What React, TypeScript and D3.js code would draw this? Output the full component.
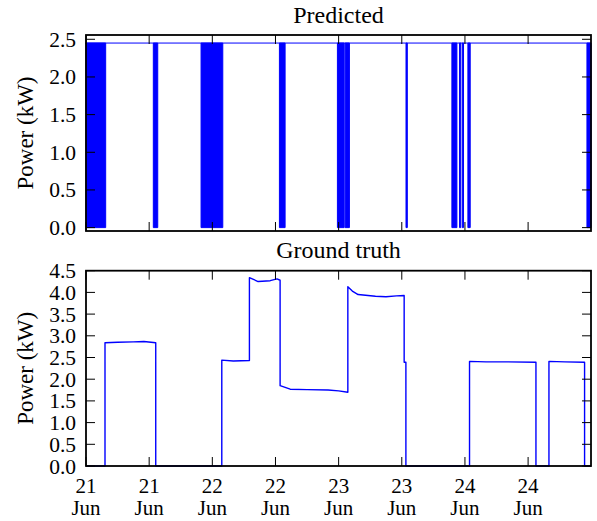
import React from "react";
import * as d3 from "d3";

// ---- data (hours after 21 Jun 00:00) ----
const startDate = new Date(2013, 5, 21, 0, 0, 0);
const endHour = 95.95;

// Predicted: constant level with intervals of rapid on/off switching
const predLevel = 2.45;
const predBands: [number, number][] = [
  [0, 3.74],
  [12.79, 13.63],
  [21.86, 25.99],
  [36.75, 37.83],
  [47.77, 49.05],
  [49.24, 50.05],
  [60.8, 61.05],
  [69.52, 70.47],
  [70.97, 71.2],
  [71.5, 71.73],
  [72.56, 73.0],
  [95.18, 95.95],
];

// Ground truth points [hour, kW]
const truthHours = [
  0, 3.61, 3.61, 6, 9, 11, 13.25, 13.25, 25.8, 25.8, 28, 31.05, 31.05, 32.7, 35, 36.3,
  36.88, 36.88, 38.8, 42, 46, 48, 49.75, 49.75, 50.6, 51.7, 55, 57, 59, 60.45, 60.45,
  60.78, 60.78, 72.87, 72.87, 76, 80, 85.49, 85.49, 87.96, 87.96, 91, 94.73, 94.73, 95.95,
];
const truthValues = [
  0, 0, 2.84, 2.85, 2.86, 2.87, 2.84, 0, 0, 2.44, 2.42, 2.43, 4.34, 4.25, 4.27, 4.31,
  4.28, 1.85, 1.77, 1.76, 1.75, 1.73, 1.7, 4.13, 4.03, 3.95, 3.91, 3.9, 3.92, 3.93, 2.39,
  2.39, 0, 0, 2.41, 2.4, 2.4, 2.39, 0, 0, 2.41, 2.4, 2.39, 0, 0,
];

const topTicks = [0, 0.5, 1.0, 1.5, 2.0, 2.5];
const bottomTicks = [0, 0.5, 1.0, 1.5, 2.0, 2.5, 3.0, 3.5, 4.0, 4.5];
const titles = ["Predicted", "Ground truth"];
const yLabel = "Power (kW)";

const toDate = (h: number) => new Date(startDate.getTime() + h * 3600e3);

const W = 597;
const H = 521;
const left = 86;
const right = 591;
const top1 = 35;
const bot1 = 231;
const top2 = 270.7;
const bot2 = 466;
const FONT = "'Liberation Serif', 'Times New Roman', serif";
const BLUE = "#0000ff";
const TL = 9;

export default function App() {
  const x = d3.scaleTime().domain([startDate, toDate(endHour)]).range([left, right]);
  const y1 = d3.scaleLinear().domain([-0.045, 2.557]).range([bot1, top1]);
  const y2 = d3.scaleLinear().domain([0, 4.5]).range([bot2, top2]);
  const xTicks = x.ticks(d3.timeHour.every(12) as any);
  const fmtDay = d3.timeFormat("%d");
  const fmtMon = d3.timeFormat("%b");

  const predLine = d3
    .line<number>()
    .x((h) => x(toDate(h)))
    .y(() => y1(predLevel))([0, endHour]);

  const bandArea = d3
    .area<number>()
    .x((h) => x(toDate(h)))
    .y0(y1(0))
    .y1(y1(predLevel));

  const truthPts = truthHours.map((h, i) => [h, truthValues[i]] as [number, number]);
  const truthLine = d3
    .line<[number, number]>()
    .x((d) => x(toDate(d[0])))
    .y((d) => y2(d[1]))(truthPts);

  const frame = (t: number, b: number, yTicks: number[], ys: any, showX: boolean, title: string) => (
    <g>
      {xTicks.map((d, i) => (
        <g key={"xt" + i}>
          <line x1={x(d)} x2={x(d)} y1={b} y2={b - TL} stroke="#000" strokeWidth={1} />
          <line x1={x(d)} x2={x(d)} y1={t} y2={t + TL} stroke="#000" strokeWidth={1} />
          {showX && (
            <text x={x(d)} textAnchor="middle" fontFamily={FONT} fontSize={21}>
              <tspan x={x(d)} y={493}>{fmtDay(d)}</tspan>
              <tspan x={x(d)} y={515}>{fmtMon(d)}</tspan>
            </text>
          )}
        </g>
      ))}
      {yTicks.map((v, i) => (
        <g key={"yt" + i}>
          <line x1={left} x2={left + TL} y1={ys(v)} y2={ys(v)} stroke="#000" strokeWidth={1} />
          <line x1={right} x2={right - TL} y1={ys(v)} y2={ys(v)} stroke="#000" strokeWidth={1} />
          <text x={76} y={ys(v)} dy="0.35em" textAnchor="end" fontFamily={FONT} fontSize={21.5}>
            {v.toFixed(1)}
          </text>
        </g>
      ))}
      <rect x={left} y={t} width={right - left} height={b - t} fill="none" stroke="#000" strokeWidth={1.8} />
      <text x={(left + right) / 2} y={t - 12.5} textAnchor="middle" fontFamily={FONT} fontSize={24}>
        {title}
      </text>
      <text
        transform={`translate(33,${(t + b) / 2}) rotate(-90)`}
        textAnchor="middle"
        fontFamily={FONT}
        fontSize={23}
      >
        {yLabel}
      </text>
    </g>
  );

  return (
    <svg
      width={W}
      height={H}
      style={{ position: "absolute", left: 0, top: 0, background: "#fff" }}
    >
      <rect width={W} height={H} fill="#fff" />
      <g>
        {predBands.map((b, i) => (
          <path key={"pb" + i} d={bandArea(b) || ""} fill={BLUE} stroke={BLUE} strokeWidth={1} />
        ))}
        <path d={predLine || ""} fill="none" stroke={BLUE} strokeWidth={1} />
      </g>
      <path d={truthLine || ""} fill="none" stroke={BLUE} strokeWidth={1.4} strokeLinejoin="round" />
      {frame(top1, bot1, topTicks, y1, false, titles[0])}
      {frame(top2, bot2, bottomTicks, y2, true, titles[1])}
    </svg>
  );
}
